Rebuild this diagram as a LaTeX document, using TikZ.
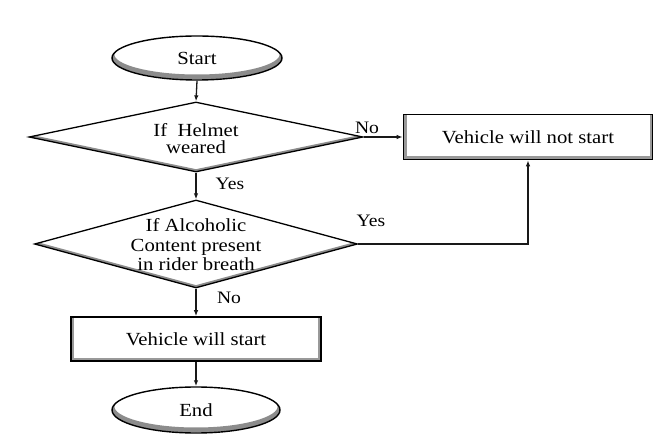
\documentclass[tikz,border=0pt]{standalone}
\usepackage{fontspec}
\setmainfont{Liberation Serif}[FakeStretch=1.12]
\usetikzlibrary{shapes.geometric,arrows.meta}
\tikzset{
  base/.style={inner sep=0pt, fill=white},
  txt/.style={font=\fontsize{18.5}{19.5}\selectfont, align=center, inner sep=0pt},
  terminal/.style={base, txt, ellipse, draw=black, line width=1.4pt,
    path picture={\draw[black!45, line width=5pt] ([yshift=3pt]path picture bounding box.center) ellipse [x radius=\pgfkeysvalueof{/pgf/minimum width}/2, y radius=\pgfkeysvalueof{/pgf/minimum height}/2];}},
  decision/.style={base, diamond, draw=black, line width=1.3pt,
    path picture={\draw[black!45, line width=5pt] (path picture bounding box.west) -- (path picture bounding box.south) -- (path picture bounding box.east);}},
  process/.style={base, txt, rectangle, draw=black, line width=1.6pt,
    path picture={\draw[black!40, line width=6pt] (path picture bounding box.north west) -- (path picture bounding box.south west) -- (path picture bounding box.south east) -- (path picture bounding box.north east);}},
  conn/.style={draw=black!90, line width=1.3pt, -{Latex[length=6pt,width=4.5pt]}},
  lbl/.style={font=\fontsize{17.5}{19}\selectfont, inner sep=0pt},
}
\begin{document}
\begin{tikzpicture}[x=1pt,y=-1pt]
\useasboundingbox (0,0) rectangle (672,443);
\fill[white] (0,0) rectangle (672,443);
\node[terminal, minimum width=170pt, minimum height=44pt] (start) at (197,58) {Start};
\node[decision, minimum width=334pt, minimum height=70pt] (d1) at (196,137) {};
\node[txt] (d1t) at (196,139) {If~ Helmet\\[-2.5pt]weared};
\node[decision, minimum width=323pt, minimum height=88pt] (d2) at (196,244) {};
\node[txt] (d2t) at (196,245) {If Alcoholic\\Content present\\in rider breath};
\node[process, minimum width=249pt, minimum height=45pt] (nostart) at (528,137) {Vehicle will not start};
\node[process, minimum width=250pt, minimum height=44pt] (vstart) at (196,339) {Vehicle will start};
\node[terminal, minimum width=168pt, minimum height=46pt] (end) at (196,410) {End};
\draw[conn] (start.south) -- (d1.north);
\draw[conn] (d1.east) -- (nostart.west);
\draw[conn] (d1.south) -- (d2.north);
\draw[conn] (d2.east) -| (nostart.south);
\draw[conn] (d2.south) -- (vstart.north);
\draw[conn] (vstart.south) -- (end.north);
\node[lbl] (lno1) at (367,128) {No};
\node[lbl] (lyes1) at (230,184) {Yes};
\node[lbl] (lyes2) at (371,221) {Yes};
\node[lbl] (lno2) at (229,298) {No};
\end{tikzpicture}
\end{document}
